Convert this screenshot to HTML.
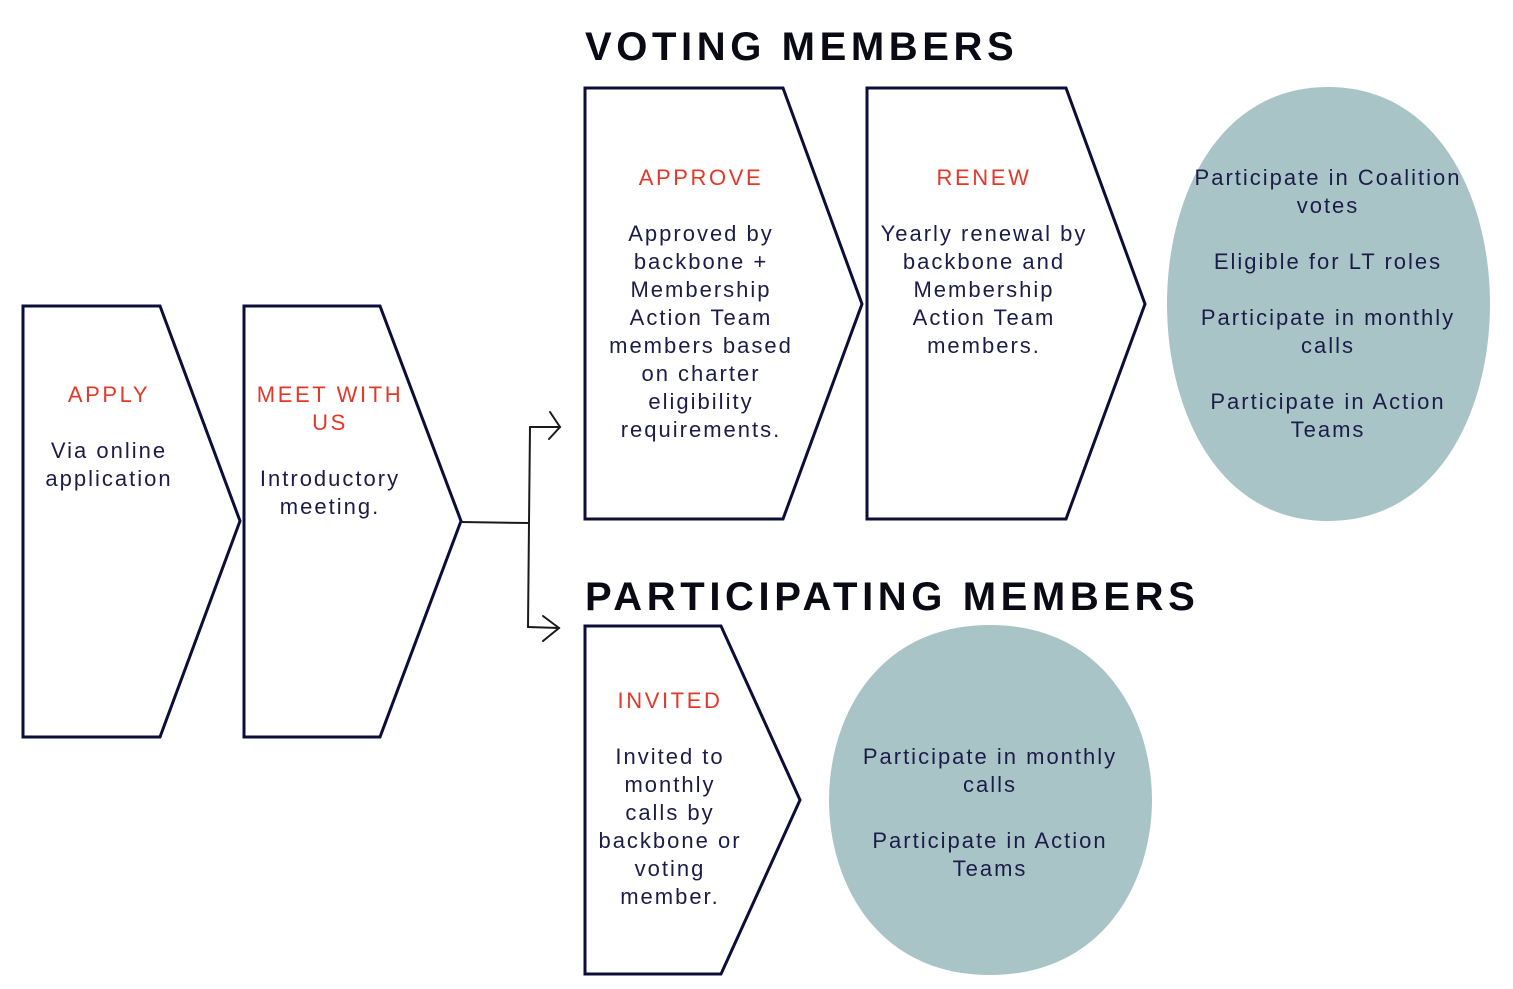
<!DOCTYPE html>
<html><head><meta charset="utf-8"><style>
html,body{margin:0;padding:0;background:#fff;}
svg{display:block;}
.t{font-family:"Liberation Sans",sans-serif;font-size:22px;fill:#1c1c4a;letter-spacing:2px;text-anchor:middle;}
.r{font-family:"Liberation Sans",sans-serif;font-size:22px;fill:#e2382a;letter-spacing:2.6px;text-anchor:middle;}
.h{font-family:"Liberation Sans",sans-serif;font-size:40px;font-weight:bold;fill:#0a0a14;letter-spacing:4.6px;}
.s{fill:#fff;stroke:#0d0d3a;stroke-width:3;stroke-linejoin:miter;}
</style></head><body>
<svg width="1513" height="989" viewBox="0 0 1513 989" xmlns="http://www.w3.org/2000/svg">
<text class="h" x="585" y="60">VOTING MEMBERS</text>
<text class="h" x="585" y="610">PARTICIPATING MEMBERS</text>

<polygon class="s" points="23,306 160,306 240,521 160,737 23,737"/>
<polygon class="s" points="244,306 380,306 461,521 380,737 244,737"/>
<polygon class="s" points="585,88 783,88 862,304 783,519 585,519"/>
<polygon class="s" points="867,88 1066,88 1145,304 1066,519 867,519"/>
<polygon class="s" points="585,626 721,626 800,800 721,974 585,974"/>

<path fill="#a9c4c6" d="M1328,87 C1440,87 1490,200 1490,304 C1490,408 1440,521 1328,521 C1216,521 1167,408 1167,304 C1167,200 1216,87 1328,87 Z"/>
<path fill="#a9c4c6" d="M990,625 C1105,625 1152,720 1152,800 C1152,880 1105,975 990,975 C875,975 829,880 829,800 C829,720 875,625 990,625 Z"/>

<g fill="none" stroke="#1a1a1a" stroke-width="2" stroke-linecap="round">
<path d="M461,522 L529,523"/>
<path d="M530,427 L529,523 L528,627"/>
<path d="M530,427 L560,427"/>
<path d="M528,627 L559,628"/>
<path d="M550,412 L560,427 L549,439"/>
<path d="M543,616 L559,628 L543,641"/>
</g>

<text class="r" x="109" y="402">APPLY</text>
<text class="t" x="109" y="458">Via online</text>
<text class="t" x="109" y="486">application</text>

<text class="r" x="330" y="402">MEET WITH</text>
<text class="r" x="330" y="430">US</text>
<text class="t" x="330" y="486">Introductory</text>
<text class="t" x="330" y="514">meeting.</text>

<text class="r" x="701" y="185">APPROVE</text>
<text class="t" x="701" y="241">Approved by</text>
<text class="t" x="701" y="269">backbone +</text>
<text class="t" x="701" y="297">Membership</text>
<text class="t" x="701" y="325">Action Team</text>
<text class="t" x="701" y="353">members based</text>
<text class="t" x="701" y="381">on charter</text>
<text class="t" x="701" y="409">eligibility</text>
<text class="t" x="701" y="437">requirements.</text>

<text class="r" x="984" y="185">RENEW</text>
<text class="t" x="984" y="241">Yearly renewal by</text>
<text class="t" x="984" y="269">backbone and</text>
<text class="t" x="984" y="297">Membership</text>
<text class="t" x="984" y="325">Action Team</text>
<text class="t" x="984" y="353">members.</text>

<text class="t" x="1328" y="185">Participate in Coalition</text>
<text class="t" x="1328" y="213">votes</text>
<text class="t" x="1328" y="269">Eligible for LT roles</text>
<text class="t" x="1328" y="325">Participate in monthly</text>
<text class="t" x="1328" y="353">calls</text>
<text class="t" x="1328" y="409">Participate in Action</text>
<text class="t" x="1328" y="437">Teams</text>

<text class="r" x="670" y="708">INVITED</text>
<text class="t" x="670" y="764">Invited to</text>
<text class="t" x="670" y="792">monthly</text>
<text class="t" x="670" y="820">calls by</text>
<text class="t" x="670" y="848">backbone or</text>
<text class="t" x="670" y="876">voting</text>
<text class="t" x="670" y="904">member.</text>

<text class="t" x="990" y="764">Participate in monthly</text>
<text class="t" x="990" y="792">calls</text>
<text class="t" x="990" y="848">Participate in Action</text>
<text class="t" x="990" y="876">Teams</text>
</svg>
</body></html>
